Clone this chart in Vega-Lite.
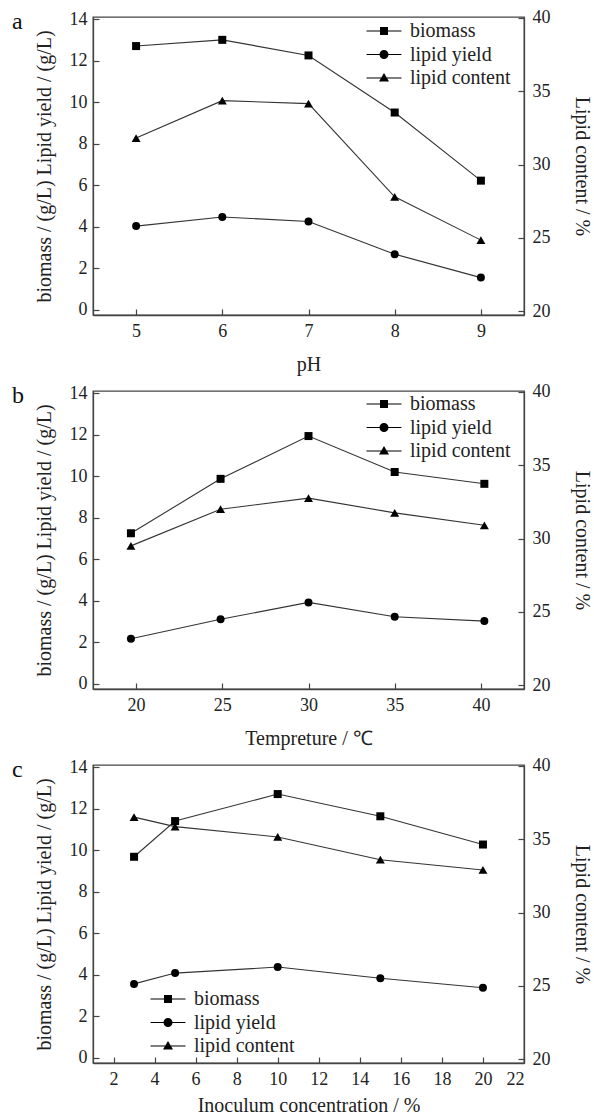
{
  "$schema": "https://vega.github.io/schema/vega-lite/v6.json",
  "padding": {"left": 11, "top": 8, "right": 2, "bottom": 2},
  "background": "white",
  "spacing": 76,
  "bounds": "flush",
  "config": {
    "font": "Liberation Serif",
    "view": {"stroke": "#444", "strokeWidth": 1.3},
    "axis": {"grid": false, "domainColor": "#444", "domainWidth": 1.3, "tickColor": "#444", "tickWidth": 1.2, "tickSize": -6,
      "labelFont": "Liberation Serif", "labelFontSize": 18, "labelColor": "#222",
      "titleFont": "Liberation Serif", "titleFontSize": 20, "titleFontWeight": "normal", "titleColor": "#222"},
    "legend": {"labelFont": "Liberation Serif", "labelFontSize": 20, "labelColor": "#222", "title": null}
  },
  "resolve": {"scale": {"shape": "independent"}, "legend": {"shape": "independent"}},
  "datasets": {
    "pa": [
      {"x": 5, "series": "biomass", "value": 12.7},
      {"x": 6, "series": "biomass", "value": 13.0},
      {"x": 7, "series": "biomass", "value": 12.25},
      {"x": 8, "series": "biomass", "value": 9.5},
      {"x": 9, "series": "biomass", "value": 6.22},
      {"x": 5, "series": "lipid yield", "value": 4.03},
      {"x": 6, "series": "lipid yield", "value": 4.47},
      {"x": 7, "series": "lipid yield", "value": 4.25},
      {"x": 8, "series": "lipid yield", "value": 2.68},
      {"x": 9, "series": "lipid yield", "value": 1.55},
      {"x": 5, "series": "lipid content", "value": 31.8},
      {"x": 6, "series": "lipid content", "value": 34.35},
      {"x": 7, "series": "lipid content", "value": 34.15},
      {"x": 8, "series": "lipid content", "value": 27.8},
      {"x": 9, "series": "lipid content", "value": 24.85}
    ],
    "pb": [
      {"x": 19.7, "series": "biomass", "value": 7.25},
      {"x": 24.9, "series": "biomass", "value": 9.87},
      {"x": 30, "series": "biomass", "value": 11.93},
      {"x": 35, "series": "biomass", "value": 10.2},
      {"x": 40.2, "series": "biomass", "value": 9.63},
      {"x": 19.7, "series": "lipid yield", "value": 2.17},
      {"x": 24.9, "series": "lipid yield", "value": 3.11},
      {"x": 30, "series": "lipid yield", "value": 3.92},
      {"x": 35, "series": "lipid yield", "value": 3.23},
      {"x": 40.2, "series": "lipid yield", "value": 3.02},
      {"x": 19.7, "series": "lipid content", "value": 29.5},
      {"x": 24.9, "series": "lipid content", "value": 32.0},
      {"x": 30, "series": "lipid content", "value": 32.75},
      {"x": 35, "series": "lipid content", "value": 31.75},
      {"x": 40.2, "series": "lipid content", "value": 30.9}
    ],
    "pc": [
      {"x": 3, "series": "biomass", "value": 9.68},
      {"x": 5, "series": "biomass", "value": 11.4},
      {"x": 10, "series": "biomass", "value": 12.7},
      {"x": 15, "series": "biomass", "value": 11.63},
      {"x": 20, "series": "biomass", "value": 10.27},
      {"x": 3, "series": "lipid yield", "value": 3.56},
      {"x": 5, "series": "lipid yield", "value": 4.08},
      {"x": 10, "series": "lipid yield", "value": 4.37},
      {"x": 15, "series": "lipid yield", "value": 3.83},
      {"x": 20, "series": "lipid yield", "value": 3.37},
      {"x": 3, "series": "lipid content", "value": 36.5},
      {"x": 5, "series": "lipid content", "value": 35.85},
      {"x": 10, "series": "lipid content", "value": 35.15},
      {"x": 15, "series": "lipid content", "value": 33.6},
      {"x": 20, "series": "lipid content", "value": 32.9}
    ]
  },
  "vconcat": [
    {
      "width": 431, "height": 298,
      "data": {"name": "pa"},
      "title": {"text": "a", "anchor": "start", "frame": "group", "orient": "top", "offset": 0, "baseline": "alphabetic", "fontSize": 24, "fontWeight": "normal", "font": "Liberation Serif", "color": "#111", "dx": -81, "dy": 44},
      "encoding": {"x": {"field": "x", "type": "quantitative", "scale": {"domain": [4.5, 9.5], "nice": false, "zero": false}, "axis": {"values": [5, 6, 7, 8, 9], "title": "pH", "labelPadding": 13, "titlePadding": 14}}},
      "layer": [
        {
          "transform": [{"filter": "datum.series !== 'lipid content'"}],
          "encoding": {"y": {"field": "value", "type": "quantitative", "scale": {"domain": [-0.25, 14.1], "nice": false, "zero": false}, "axis": {"orient": "left", "values": [0, 2, 4, 6, 8, 10, 12, 14], "title": "biomass / (g/L) Lipid yield / (g/L)", "labelPadding": 12, "titlePadding": 15}}},
          "layer": [
            {"mark": {"type": "line", "color": "#333", "strokeWidth": 1.1}, "encoding": {"detail": {"field": "series"}}},
            {"mark": {"type": "point", "filled": true, "color": "#000", "opacity": 1, "size": 64}, "encoding": {"shape": {"field": "series", "type": "nominal", "scale": {"domain": ["biomass", "lipid yield"], "range": ["square", "circle"]}, "legend": null}}}
          ]
        },
        {
          "transform": [{"filter": "datum.series === 'lipid content'"}],
          "encoding": {"y": {"field": "value", "type": "quantitative", "scale": {"domain": [19.75, 40.05], "nice": false, "zero": false}, "axis": {"orient": "right", "values": [20, 25, 30, 35, 40], "title": "Lipid content / %", "labelPadding": 14, "titlePadding": 21}}},
          "layer": [
            {"mark": {"type": "line", "color": "#333", "strokeWidth": 1.1}, "encoding": {}},
            {"mark": {"type": "point", "filled": true, "color": "#000", "opacity": 1, "size": 80, "shape": "triangle-up"}, "encoding": {}}
          ]
        },
        {
          "transform": [{"filter": "datum.series !== 'lipid content'"}],
          "mark": {"type": "point", "filled": true, "color": "#000", "opacity": 0, "size": 400},
          "encoding": {
            "y": {"field": "value", "type": "quantitative", "scale": {"domain": [-0.25, 14.1], "nice": false, "zero": false}, "axis": null},
            "shape": {"field": "series", "type": "nominal",
              "scale": {"domain": ["biomass", "lipid yield", "lipid content"], "range": ["M-1.75,-0.06H1.75V0.06H-1.75ZM-0.4,-0.4H0.4V0.4H-0.4Z", "M-1.75,-0.06H1.75V0.06H-1.75ZM-0.45,0A0.45,0.45,0,1,1,0.45,0A0.45,0.45,0,1,1,-0.45,0Z", "M-1.75,-0.06H1.75V0.06H-1.75ZM0,-0.5L0.5,0.35H-0.5Z"]},
              "legend": {"orient": "none", "legendX": 280, "legendY": 3, "padding": 0, "labelOffset": 15, "symbolSize": 400, "rowPadding": 2.5,
                "encode": {"symbols": {"fill": {"value": "#000"}, "strokeWidth": {"value": 0}, "opacity": {"value": 1}}}}}
          }
        }
      ],
      "resolve": {"scale": {"y": "independent", "shape": "independent"}}
    },
    {
      "width": 431, "height": 298,
      "data": {"name": "pb"},
      "title": {"text": "b", "anchor": "start", "frame": "group", "orient": "top", "offset": 0, "baseline": "alphabetic", "fontSize": 24, "fontWeight": "normal", "font": "Liberation Serif", "color": "#111", "dx": -81, "dy": 44},
      "encoding": {"x": {"field": "x", "type": "quantitative", "scale": {"domain": [17.5, 42.5], "nice": false, "zero": false}, "axis": {"values": [20, 25, 30, 35, 40], "title": "Tempreture / ℃", "labelPadding": 13, "titlePadding": 14}}},
      "layer": [
        {
          "transform": [{"filter": "datum.series !== 'lipid content'"}],
          "encoding": {"y": {"field": "value", "type": "quantitative", "scale": {"domain": [-0.25, 14.1], "nice": false, "zero": false}, "axis": {"orient": "left", "values": [0, 2, 4, 6, 8, 10, 12, 14], "title": "biomass / (g/L) Lipid yield / (g/L)", "labelPadding": 12, "titlePadding": 15}}},
          "layer": [
            {"mark": {"type": "line", "color": "#333", "strokeWidth": 1.1}, "encoding": {"detail": {"field": "series"}}},
            {"mark": {"type": "point", "filled": true, "color": "#000", "opacity": 1, "size": 64}, "encoding": {"shape": {"field": "series", "type": "nominal", "scale": {"domain": ["biomass", "lipid yield"], "range": ["square", "circle"]}, "legend": null}}}
          ]
        },
        {
          "transform": [{"filter": "datum.series === 'lipid content'"}],
          "encoding": {"y": {"field": "value", "type": "quantitative", "scale": {"domain": [19.75, 40.05], "nice": false, "zero": false}, "axis": {"orient": "right", "values": [20, 25, 30, 35, 40], "title": "Lipid content / %", "labelPadding": 14, "titlePadding": 21}}},
          "layer": [
            {"mark": {"type": "line", "color": "#333", "strokeWidth": 1.1}, "encoding": {}},
            {"mark": {"type": "point", "filled": true, "color": "#000", "opacity": 1, "size": 80, "shape": "triangle-up"}, "encoding": {}}
          ]
        },
        {
          "transform": [{"filter": "datum.series !== 'lipid content'"}],
          "mark": {"type": "point", "filled": true, "color": "#000", "opacity": 0, "size": 400},
          "encoding": {
            "y": {"field": "value", "type": "quantitative", "scale": {"domain": [-0.25, 14.1], "nice": false, "zero": false}, "axis": null},
            "shape": {"field": "series", "type": "nominal",
              "scale": {"domain": ["biomass", "lipid yield", "lipid content"], "range": ["M-1.75,-0.06H1.75V0.06H-1.75ZM-0.4,-0.4H0.4V0.4H-0.4Z", "M-1.75,-0.06H1.75V0.06H-1.75ZM-0.45,0A0.45,0.45,0,1,1,0.45,0A0.45,0.45,0,1,1,-0.45,0Z", "M-1.75,-0.06H1.75V0.06H-1.75ZM0,-0.5L0.5,0.35H-0.5Z"]},
              "legend": {"orient": "none", "legendX": 280, "legendY": 2, "padding": 0, "labelOffset": 15, "symbolSize": 400, "rowPadding": 2.5,
                "encode": {"symbols": {"fill": {"value": "#000"}, "strokeWidth": {"value": 0}, "opacity": {"value": 1}}}}}
          }
        }
      ],
      "resolve": {"scale": {"y": "independent", "shape": "independent"}}
    },
    {
      "width": 431, "height": 298,
      "data": {"name": "pc"},
      "title": {"text": "c", "anchor": "start", "frame": "group", "orient": "top", "offset": 0, "baseline": "alphabetic", "fontSize": 24, "fontWeight": "normal", "font": "Liberation Serif", "color": "#111", "dx": -81, "dy": 44},
      "encoding": {"x": {"field": "x", "type": "quantitative", "scale": {"domain": [1, 22], "nice": false, "zero": false}, "axis": {"values": [2, 4, 6, 8, 10, 12, 14, 16, 18, 20, 22], "title": "Inoculum concentration / %", "labelPadding": 13, "titlePadding": 7}}},
      "layer": [
        {
          "transform": [{"filter": "datum.series !== 'lipid content'"}],
          "encoding": {"y": {"field": "value", "type": "quantitative", "scale": {"domain": [-0.25, 14.1], "nice": false, "zero": false}, "axis": {"orient": "left", "values": [0, 2, 4, 6, 8, 10, 12, 14], "title": "biomass / (g/L) Lipid yield / (g/L)", "labelPadding": 12, "titlePadding": 15}}},
          "layer": [
            {"mark": {"type": "line", "color": "#333", "strokeWidth": 1.1}, "encoding": {"detail": {"field": "series"}}},
            {"mark": {"type": "point", "filled": true, "color": "#000", "opacity": 1, "size": 64}, "encoding": {"shape": {"field": "series", "type": "nominal", "scale": {"domain": ["biomass", "lipid yield"], "range": ["square", "circle"]}, "legend": null}}}
          ]
        },
        {
          "transform": [{"filter": "datum.series === 'lipid content'"}],
          "encoding": {"y": {"field": "value", "type": "quantitative", "scale": {"domain": [19.75, 40.05], "nice": false, "zero": false}, "axis": {"orient": "right", "values": [20, 25, 30, 35, 40], "title": "Lipid content / %", "labelPadding": 14, "titlePadding": 21}}},
          "layer": [
            {"mark": {"type": "line", "color": "#333", "strokeWidth": 1.1}, "encoding": {}},
            {"mark": {"type": "point", "filled": true, "color": "#000", "opacity": 1, "size": 80, "shape": "triangle-up"}, "encoding": {}}
          ]
        },
        {
          "transform": [{"filter": "datum.series !== 'lipid content'"}],
          "mark": {"type": "point", "filled": true, "color": "#000", "opacity": 0, "size": 400},
          "encoding": {
            "y": {"field": "value", "type": "quantitative", "scale": {"domain": [-0.25, 14.1], "nice": false, "zero": false}, "axis": null},
            "shape": {"field": "series", "type": "nominal",
              "scale": {"domain": ["biomass", "lipid yield", "lipid content"], "range": ["M-1.75,-0.06H1.75V0.06H-1.75ZM-0.4,-0.4H0.4V0.4H-0.4Z", "M-1.75,-0.06H1.75V0.06H-1.75ZM-0.45,0A0.45,0.45,0,1,1,0.45,0A0.45,0.45,0,1,1,-0.45,0Z", "M-1.75,-0.06H1.75V0.06H-1.75ZM0,-0.5L0.5,0.35H-0.5Z"]},
              "legend": {"orient": "none", "legendX": 64, "legendY": 223, "padding": 0, "labelOffset": 15, "symbolSize": 400, "rowPadding": 2.5,
                "encode": {"symbols": {"fill": {"value": "#000"}, "strokeWidth": {"value": 0}, "opacity": {"value": 1}}}}}
          }
        }
      ],
      "resolve": {"scale": {"y": "independent", "shape": "independent"}}
    }
  ]
}
